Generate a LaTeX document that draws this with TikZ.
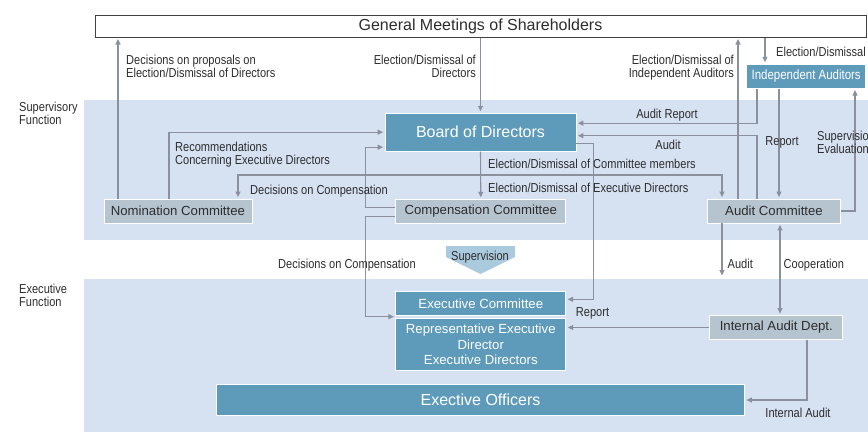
\documentclass[tikz,border=0pt]{standalone}
\usepackage{fontspec}
\setmainfont{Liberation Sans}
\newfontfamily\narrowfont{Liberation Sans}[FakeStretch=0.85]
\usetikzlibrary{calc,arrows.meta}
\definecolor{bandblue}{RGB}{214,225,242}
\definecolor{boxblue}{RGB}{94,155,186}
\definecolor{boxgray}{RGB}{182,196,208}
\definecolor{linegray}{RGB}{138,144,158}
\definecolor{supblue}{RGB}{170,202,222}
\definecolor{txtgray}{RGB}{45,45,45}
\newcommand*{\bigtxt}{\fontsize{16}{18}\selectfont}
\newcommand*{\boxtxt}{\fontsize{13.2}{15.5}\selectfont}
\newcommand*{\lbltxt}{\narrowfont\fontsize{13}{13.3}\selectfont}
\tikzset{
  bluebox/.style={fill=boxblue,draw=white,line width=0.8pt,text=white,
                  inner sep=0pt,align=center},
  graybox/.style={fill=boxgray,draw=white,line width=0.8pt,text=txtgray,
                  inner sep=0pt,font=\boxtxt},
  lbl/.style={font=\lbltxt,text=txtgray,inner sep=0pt},
  arr/.style={draw=linegray,line width=1.1pt,shorten >=1.5pt,
              -{Triangle[length=5.5pt,width=5pt]}},
  arrboth/.style={arr,shorten <=1.5pt,
              {Triangle[length=5.5pt,width=5pt]}-{Triangle[length=5.5pt,width=5pt]}}
}

\begin{document}
\begin{tikzpicture}[x=1pt,y=-1pt]
\useasboundingbox (0,0) rectangle (868,432);
% Background bands for the two functions
\fill[bandblue] (84,100) rectangle (868,240);
\fill[bandblue] (84,279) rectangle (868,432);
% Boxes
\node[draw=black!75,line width=1pt,fill=white,minimum width=771pt,
      minimum height=22pt,inner sep=0pt,font=\bigtxt,text=txtgray]
      (gms) at (480.5,26) {General Meetings of Shareholders};
\node[bluebox,minimum width=191pt,minimum height=38pt,font=\bigtxt]
      (board) at (480.5,132.2) {Board of Directors};
\node[bluebox,minimum width=119pt,minimum height=24pt,
      font=\narrowfont\fontsize{13.5}{15}\selectfont]
      (ind) at (806.2,76.2) {Independent Auditors};
\node[graybox,minimum width=148pt,minimum height=24pt]
      (nom) at (177.9,210.9) {Nomination Committee};
\node[graybox,minimum width=170pt,minimum height=24pt]
      (comp) at (480.8,211.2) {Compensation Committee};
\node[graybox,minimum width=133pt,minimum height=24pt]
      (aud) at (774,211) {Audit Committee};
\node[bluebox,minimum width=170pt,minimum height=23.5pt,font=\boxtxt]
      (exe) at (480.8,303.3) {Executive Committee};
\node[bluebox,minimum width=170pt,minimum height=52.5pt,font=\boxtxt]
      (rep) at (480.8,344.5) {Representative Executive\\Director\\Executive Directors};
\node[graybox,minimum width=133pt,minimum height=24pt]
      (ia) at (776.3,327.5) {Internal Audit Dept.};
\node[bluebox,minimum width=528pt,minimum height=31.4pt,font=\bigtxt]
      (eo) at (480.5,400) {Exective Officers};
%% Supervision arrow shape
\fill[supblue] (446,246) -- (515,246) -- (515,257) -- (480.5,274)
      -- (446,257) -- cycle;
% Connectors of the supervisory side
\draw[arr] (118,0 |- nom.north) -- (118,0 |- gms.south);
\draw[arr] (gms.south -| board.north) -- (board.north);
\draw[arr] (169,0 |- nom.north) |- (board.west);
\draw[arr] ([yshift=4pt]comp.west) -- ++(-30,0) |- ([yshift=-15pt]board.west);
\coordinate (execgap) at ($(exe.south west)!.5!(rep.north west)$);
\draw[arr] ([yshift=-5pt]comp.west) -- ++(-30,0) |- (execgap);
\draw[arr] (board.south) -- (comp.north);
\coordinate (branch) at (board.south |- 0,175);
\draw[arr] (branch) -| (238,0 |- nom.north);
\draw[arr] (branch) -| (722,0 |- aud.north);
\draw[arr] ([yshift=-11pt]board.east) -- ++(17,0) |- ([yshift=4pt]exe.east);
%% Auditors and audit committee
\draw[arr] (757,0 |- ind.south) |- ([yshift=9pt]board.east);
\draw[arr] (757,0 |- aud.north) |- ([yshift=-3.5pt]board.east);
\draw[arr] (738,0 |- aud.north) -- (738,0 |- gms.south);
\draw[arr] (765,0 |- gms.south) -- (765,0 |- ind.north);
\draw[arr] (779,0 |- ind.south) -- (779,0 |- aud.north);
\draw[arr] (aud.east) -| (855,0 |- ind.south);
% Connectors of the executive side
\coordinate (audend) at (722,277);
\draw[arr] (722,0 |- aud.south) -- (audend);
\draw[arrboth] (780,0 |- aud.south) -- (780,0 |- ia.north);
\draw[arr] (ia.west) -- (ia.west -| rep.east);
\draw[arr] (807,0 |- ia.south) |- (eo.east);
% Labels
\node[lbl,anchor=north west] (lsupf) at (19,102) [align=left] {Supervisory\\Function};
\node[lbl,anchor=north west] (lexef) at (19,284) [align=left] {Executive\\Function};
\node[lbl,anchor=north west] (lprop) at (126,55) [align=left]
      {Decisions on proposals on\\Election/Dismissal of Directors};
\node[lbl,anchor=north east] (ldir) at (476,55) [align=right]
      {Election/Dismissal of\\Directors};
\node[lbl,anchor=north east] (lindep) at (734,55) [align=right]
      {Election/Dismissal of\\Independent Auditors};
\node[lbl,anchor=north west] (lelect) at (776,46.5) {Election/Dismissal};
\node[lbl,anchor=north west] (lrecom) at (175,141.5) [align=left]
      {Recommendations\\Concerning Executive Directors};
\node[lbl,anchor=north west] (lcomp) at (250,184.5) {Decisions on Compensation};
\node[lbl,anchor=north west] (lmemb) at (488,159) {Election/Dismissal of Committee members};
\node[lbl,anchor=north west] (lexdir) at (488,182.5) {Election/Dismissal of Executive Directors};
\node[lbl,anchor=north] (lauditrep) at (667,108.5) {Audit Report};
\node[lbl,anchor=north] (laudit) at (668,140) {Audit};
\node[lbl,anchor=north] (lreport) at (782,136.5) {Report};
\node[lbl,anchor=north west] (lsupev) at (817,131) [align=left] {Supervision\\Evaluation};
\node[lbl,anchor=north] (lsup) at (480,250.5) {Supervision};
\node[lbl,anchor=north west] (lcomp2) at (278,258.5) {Decisions on Compensation};
\node[lbl,anchor=north west] (laudit2) at (727.5,259) {Audit};
\node[lbl,anchor=north west] (lcoop) at (783.5,259) {Cooperation};
\node[lbl,anchor=north] (lreport2) at (592.5,307.5) {Report};
\node[lbl,anchor=north] (linaudit) at (798,407.5) {Internal Audit};
\end{tikzpicture}
\end{document}
